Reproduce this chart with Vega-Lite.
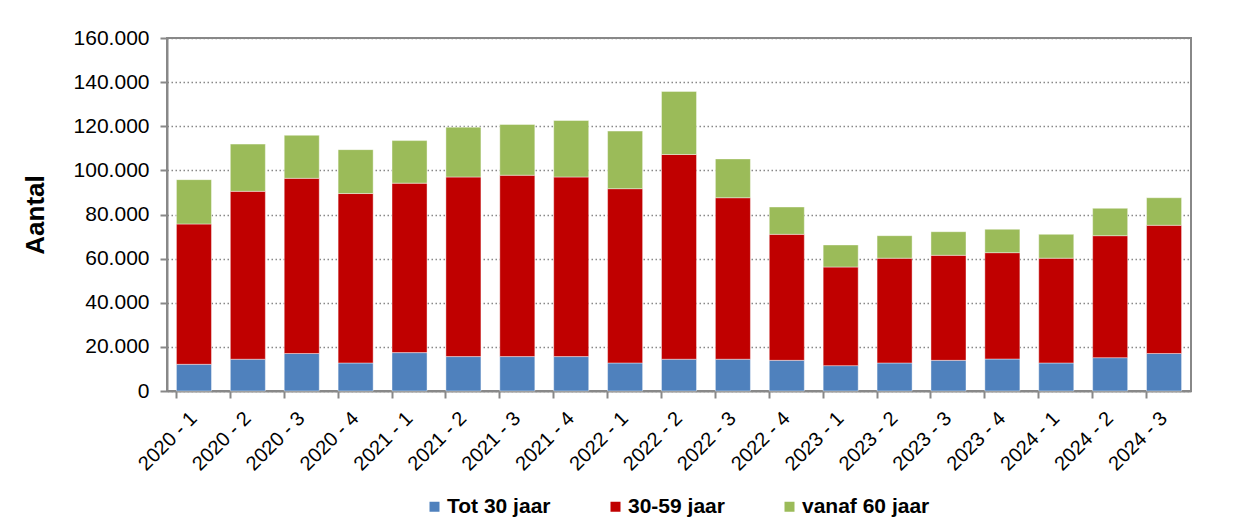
{
  "$schema": "https://vega.github.io/schema/vega-lite/v6.json",
  "width": 1024,
  "height": 353,
  "autosize": {"type": "none"},
  "padding": {"left": 167, "top": 38, "right": 42, "bottom": 133},
  "background": "white",
  "data": {
    "values": [
      {"q": "2020 - 1", "groep": "Tot 30 jaar", "o": 1, "v": 12100},
      {"q": "2020 - 1", "groep": "30-59 jaar", "o": 2, "v": 63600},
      {"q": "2020 - 1", "groep": "vanaf 60 jaar", "o": 3, "v": 20100},
      {"q": "2020 - 2", "groep": "Tot 30 jaar", "o": 1, "v": 14400},
      {"q": "2020 - 2", "groep": "30-59 jaar", "o": 2, "v": 76100},
      {"q": "2020 - 2", "groep": "vanaf 60 jaar", "o": 3, "v": 21400},
      {"q": "2020 - 3", "groep": "Tot 30 jaar", "o": 1, "v": 17000},
      {"q": "2020 - 3", "groep": "30-59 jaar", "o": 2, "v": 79400},
      {"q": "2020 - 3", "groep": "vanaf 60 jaar", "o": 3, "v": 19500},
      {"q": "2020 - 4", "groep": "Tot 30 jaar", "o": 1, "v": 12700},
      {"q": "2020 - 4", "groep": "30-59 jaar", "o": 2, "v": 76800},
      {"q": "2020 - 4", "groep": "vanaf 60 jaar", "o": 3, "v": 19900},
      {"q": "2021 - 1", "groep": "Tot 30 jaar", "o": 1, "v": 17400},
      {"q": "2021 - 1", "groep": "30-59 jaar", "o": 2, "v": 76800},
      {"q": "2021 - 1", "groep": "vanaf 60 jaar", "o": 3, "v": 19300},
      {"q": "2021 - 2", "groep": "Tot 30 jaar", "o": 1, "v": 15600},
      {"q": "2021 - 2", "groep": "30-59 jaar", "o": 2, "v": 81400},
      {"q": "2021 - 2", "groep": "vanaf 60 jaar", "o": 3, "v": 22600},
      {"q": "2021 - 3", "groep": "Tot 30 jaar", "o": 1, "v": 15600},
      {"q": "2021 - 3", "groep": "30-59 jaar", "o": 2, "v": 82200},
      {"q": "2021 - 3", "groep": "vanaf 60 jaar", "o": 3, "v": 23000},
      {"q": "2021 - 4", "groep": "Tot 30 jaar", "o": 1, "v": 15600},
      {"q": "2021 - 4", "groep": "30-59 jaar", "o": 2, "v": 81400},
      {"q": "2021 - 4", "groep": "vanaf 60 jaar", "o": 3, "v": 25600},
      {"q": "2022 - 1", "groep": "Tot 30 jaar", "o": 1, "v": 12700},
      {"q": "2022 - 1", "groep": "30-59 jaar", "o": 2, "v": 79000},
      {"q": "2022 - 1", "groep": "vanaf 60 jaar", "o": 3, "v": 26100},
      {"q": "2022 - 2", "groep": "Tot 30 jaar", "o": 1, "v": 14400},
      {"q": "2022 - 2", "groep": "30-59 jaar", "o": 2, "v": 92800},
      {"q": "2022 - 2", "groep": "vanaf 60 jaar", "o": 3, "v": 28600},
      {"q": "2022 - 3", "groep": "Tot 30 jaar", "o": 1, "v": 14400},
      {"q": "2022 - 3", "groep": "30-59 jaar", "o": 2, "v": 73200},
      {"q": "2022 - 3", "groep": "vanaf 60 jaar", "o": 3, "v": 17600},
      {"q": "2022 - 4", "groep": "Tot 30 jaar", "o": 1, "v": 13900},
      {"q": "2022 - 4", "groep": "30-59 jaar", "o": 2, "v": 57100},
      {"q": "2022 - 4", "groep": "vanaf 60 jaar", "o": 3, "v": 12400},
      {"q": "2023 - 1", "groep": "Tot 30 jaar", "o": 1, "v": 11500},
      {"q": "2023 - 1", "groep": "30-59 jaar", "o": 2, "v": 44700},
      {"q": "2023 - 1", "groep": "vanaf 60 jaar", "o": 3, "v": 10000},
      {"q": "2023 - 2", "groep": "Tot 30 jaar", "o": 1, "v": 12700},
      {"q": "2023 - 2", "groep": "30-59 jaar", "o": 2, "v": 47500},
      {"q": "2023 - 2", "groep": "vanaf 60 jaar", "o": 3, "v": 10200},
      {"q": "2023 - 3", "groep": "Tot 30 jaar", "o": 1, "v": 13900},
      {"q": "2023 - 3", "groep": "30-59 jaar", "o": 2, "v": 47600},
      {"q": "2023 - 3", "groep": "vanaf 60 jaar", "o": 3, "v": 10700},
      {"q": "2023 - 4", "groep": "Tot 30 jaar", "o": 1, "v": 14500},
      {"q": "2023 - 4", "groep": "30-59 jaar", "o": 2, "v": 48200},
      {"q": "2023 - 4", "groep": "vanaf 60 jaar", "o": 3, "v": 10600},
      {"q": "2024 - 1", "groep": "Tot 30 jaar", "o": 1, "v": 12700},
      {"q": "2024 - 1", "groep": "30-59 jaar", "o": 2, "v": 47500},
      {"q": "2024 - 1", "groep": "vanaf 60 jaar", "o": 3, "v": 10800},
      {"q": "2024 - 2", "groep": "Tot 30 jaar", "o": 1, "v": 15100},
      {"q": "2024 - 2", "groep": "30-59 jaar", "o": 2, "v": 55300},
      {"q": "2024 - 2", "groep": "vanaf 60 jaar", "o": 3, "v": 12400},
      {"q": "2024 - 3", "groep": "Tot 30 jaar", "o": 1, "v": 17000},
      {"q": "2024 - 3", "groep": "30-59 jaar", "o": 2, "v": 58100},
      {"q": "2024 - 3", "groep": "vanaf 60 jaar", "o": 3, "v": 12500}
    ]
  },
  "mark": {"type": "bar", "stroke": "white", "strokeWidth": 0.6, "strokeOpacity": 0.7},
  "encoding": {
    "x": {
      "field": "q",
      "type": "ordinal",
      "sort": null,
      "title": null,
      "scale": {"paddingInner": 0.35, "paddingOuter": 0.175},
      "axis": {
        "labelAngle": -45,
        "labelAlign": "right",
        "labelBaseline": "middle",
        "labelFont": "Liberation Sans",
        "labelFontSize": 20,
        "labelColor": "#000000",
        "labelPadding": 17,
        "bandPosition": 0,
        "domainColor": "#888888",
        "domainWidth": 2,
        "tickColor": "#888888",
        "tickWidth": 2,
        "tickSize": 7,
        "labelOverlap": false
      }
    },
    "y": {
      "field": "v",
      "type": "quantitative",
      "stack": "zero",
      "title": "Aantal",
      "scale": {"domain": [0, 160000], "nice": false},
      "axis": {
        "values": [0, 20000, 40000, 60000, 80000, 100000, 120000, 140000, 160000],
        "labelExpr": "replace(format(datum.value, ','), ',', '.')",
        "labelFont": "Liberation Sans",
        "labelFontSize": 21,
        "labelColor": "#000000",
        "labelPadding": 11,
        "domainColor": "#888888",
        "domainWidth": 2,
        "tickColor": "#888888",
        "tickWidth": 2,
        "tickSize": 7,
        "grid": true,
        "gridColor": "#888888",
        "gridWidth": 1.5,
        "gridDash": [1.5, 2.5],
        "titleFont": "Liberation Sans",
        "titleFontSize": 26,
        "titleFontWeight": "bold",
        "titleColor": "#000000",
        "titlePadding": 25
      }
    },
    "color": {
      "field": "groep",
      "type": "nominal",
      "sort": ["Tot 30 jaar", "30-59 jaar", "vanaf 60 jaar"],
      "scale": {
        "domain": ["Tot 30 jaar", "30-59 jaar", "vanaf 60 jaar"],
        "range": ["#4F81BD", "#C00000", "#9BBB59"]
      },
      "legend": {
        "title": null,
        "orient": "none",
        "legendX": 257,
        "legendY": 458,
        "padding": 0,
        "direction": "horizontal",
        "symbolType": "square",
        "symbolSize": 100,
        "symbolStrokeWidth": 0,
        "labelFont": "Liberation Sans",
        "labelFontSize": 21,
        "labelFontWeight": "bold",
        "labelColor": "#000000",
        "labelOffset": 2,
        "columnPadding": 54
      }
    },
    "order": {"field": "o", "type": "quantitative", "sort": "ascending"}
  },
  "config": {
    "view": {"stroke": "#888888", "strokeWidth": 2}
  }
}
